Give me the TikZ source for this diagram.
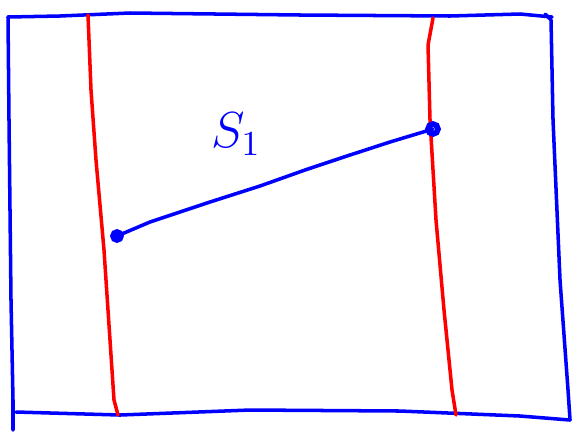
\documentclass[tikz,border=0pt]{standalone}
\usepackage{tikz}
\usetikzlibrary{arrows.meta, positioning, calc}
\tikzset{
  frameline/.style={blue, line width=1pt, line join=round, line cap=round},
  strandline/.style={red, line width=1pt, line cap=round},
  pathline/.style={blue, line width=1pt, line cap=round},
}
\begin{document}
\begin{tikzpicture}[x=0.01cm, y=-0.01cm]
  \useasboundingbox (0,0) rectangle (577,433);
  % --- outer frame -------------------------------------------------
  \draw[frameline] (8,17) -- (60,16) -- (130,13) -- (300,15) -- (450,16) -- (520,14) -- (552,17);
  \draw[frameline] (8,17) -- (9,120) -- (11,300) -- (13,400) -- (13,430);
  \draw[frameline] (16,412) -- (120,415) -- (250,410) -- (400,411) -- (520,416) -- (570,420);
  \draw[frameline] (545,14) -- (551,20) -- (553,120) -- (560,280) -- (568,390) -- (570,420);
  % --- red strands -------------------------------------------------
  \draw[strandline] (88,15) -- (91,90) -- (96,160) -- (104,250) -- (110,340) -- (114,400) -- (118,415);
  \draw[strandline] (433,18) -- (428,45) -- (430,120) -- (436,220) -- (444,310) -- (452,390) -- (456,415);
  % --- segment between the strands --------------------------------
  \coordinate (pa) at (117,236);
  \coordinate (pb) at (433,129);
  \draw[pathline] (pa) -- (150,222) -- (210,202) -- (260,186) -- (305,170) -- (350,155) -- (390,142) -- (pb);
  \draw[blue, line width=1.6pt] (pa) circle (4);
  \draw[blue, line width=1.6pt] (pb) circle (5);
  % --- label --------------------------------------------------------
  \node[blue, font=\Large] (slabel) at (236,134) {$S_1$};
\end{tikzpicture}
\end{document}
